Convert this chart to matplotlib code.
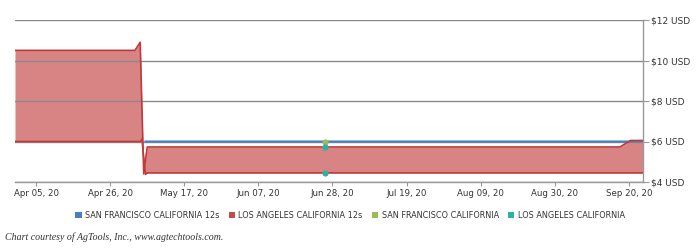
import matplotlib
matplotlib.use("Agg")
import matplotlib.pyplot as plt
import matplotlib.dates as mdates
import pandas as pd
from matplotlib.patches import Patch

# LA 12s price range (low / high), SF 12s line, single-day points
la_dates = pd.to_datetime([
    "2020-03-30 00:00", "2020-05-03 00:00", "2020-05-04 12:00", "2020-05-05 00:00",
    "2020-05-05 12:00", "2020-05-06 00:00", "2020-05-06 12:00", "2020-05-07 00:00",
    "2020-09-17 12:00", "2020-09-20 12:00", "2020-09-24 00:00",
], format="ISO8601")
la_high = [10.5, 10.5, 10.9, 7.6, 4.4, 5.1, 5.73, 5.73, 5.73, 6.05, 6.05]
la_low = [6.0, 6.0, 6.0, 6.12, 5.2, 4.38, 4.45, 4.45, 4.45, 4.45, 4.45]

sf_dates = pd.to_datetime(["2020-05-06", "2020-09-20", "2020-09-24"])
sf_price = [6.0, 6.0, 6.02]

pt_date = pd.to_datetime("2020-06-26")
sf_point = [6.0]
la_points = [5.75, 4.45]

tick_dates = pd.date_range("2020-04-05", "2020-09-20", freq="21D")
y_ticks = [4, 6, 8, 10, 12]

legend_labels = ["SAN FRANCISCO CALIFORNIA 12s", "LOS ANGELES CALIFORNIA 12s",
                 "SAN FRANCISCO CALIFORNIA", "LOS ANGELES CALIFORNIA"]
legend_colors = ["#4a7ec4", "#c94848", "#9bbb59", "#2ab3a0"]

fig = plt.figure(figsize=(7, 2.5), dpi=100)
ax = fig.add_axes([0.0214, 0.272, 0.897, 0.648])

ax.fill_between(la_dates, la_low, la_high, color="#c0393b", alpha=0.62, linewidth=0, zorder=2)
ax.plot(la_dates, la_high, color="#c0393b", lw=1.2, zorder=3)
ax.plot(la_dates, la_low, color="#c0393b", lw=1.2, zorder=3)
ax.plot(sf_dates, sf_price, color="#4a7ec4", lw=1.5, zorder=2.6)

ax.scatter([pt_date], sf_point, s=20, color="#9bbb59", zorder=5, linewidths=0)
ax.scatter([pt_date] * 2, la_points, s=20, color="#2ab3a0", zorder=5, linewidths=0)

ax.set_xlim(pd.Timestamp("2020-03-30"), pd.Timestamp("2020-09-24"))
ax.set_ylim(4, 12)
ax.set_yticks(y_ticks)
ax.set_yticklabels([f"${v} USD" for v in y_ticks])
ax.yaxis.tick_right()
ax.tick_params(axis="y", length=4, color="#999999", labelsize=6.5, labelcolor="#333333", pad=2)
ax.set_xticks(tick_dates)
ax.xaxis.set_major_formatter(mdates.DateFormatter("%b %d, %y"))
ax.tick_params(axis="x", length=3, color="#999999", labelsize=6.2, labelcolor="#333333", pad=2)

# grid sits over the fill but under the series lines
ax.grid(axis="y", color="#8a8a8a", lw=1)
ax.set_axisbelow(False)
for s in ["top", "left"]:
    ax.spines[s].set_visible(False)
for s in ["right", "bottom"]:
    ax.spines[s].set_color("#999999")
    ax.spines[s].set_linewidth(1)

handles = [Patch(facecolor=c, edgecolor="none") for c in legend_colors]
fig.legend(handles, legend_labels, loc="center", bbox_to_anchor=(0.5, 0.14), ncol=4,
           frameon=False, fontsize=5.9, handlelength=0.75, handleheight=0.75,
           handletextpad=0.45, columnspacing=1.1, labelcolor="#333333")

fig.text(0.007, 0.04, "Chart courtesy of AgTools, Inc., www.agtechtools.com.",
         family="Liberation Serif", style="italic", fontsize=7.1, color="#333333")

fig.savefig("out.png", dpi=100)
